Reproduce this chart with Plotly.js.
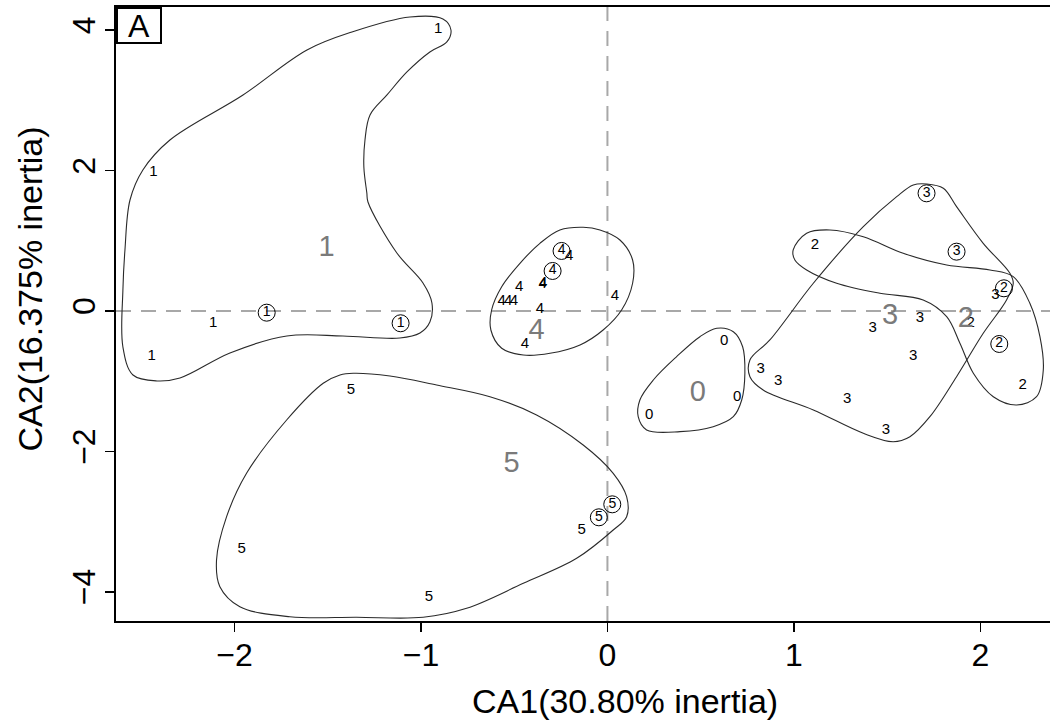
<!DOCTYPE html>
<html>
<head>
<meta charset="utf-8">
<script src="https://cdn.plot.ly/plotly-3.0.1.min.js"></script>
<style>html,body{margin:0;padding:0;background:#fff;}#chart{width:1050px;height:725px;}</style>
</head>
<body>
<div id="chart"></div>
<script>
// ---------- data ----------
const groups = ["0", "1", "2", "3", "4", "5"];

// plain labelled rows
const g0_x = [0.626, 0.696, 0.224];
const g0_y = [-0.427, -1.229, -1.491];
const g1_x = [-0.907, -2.435, -2.114, -2.444];
const g1_y = [4.013, 1.976, -0.175, -0.651];
const g2_x = [1.113, 1.947, 2.226];
const g2_y = [0.940, -0.175, -1.054];
const g3_x = [2.081, 1.422, 1.676, 1.640, 0.821, 0.916, 1.286, 1.493];
const g3_y = [0.228, -0.247, -0.104, -0.641, -0.831, -1.007, -1.258, -1.695];
const g4_x = [-0.205, -0.347, -0.345, -0.473, -0.567, -0.532, -0.501, -0.362, 0.040, -0.442];
const g4_y = [0.783, 0.385, 0.392, 0.332, 0.142, 0.142, 0.142, 0.024, 0.214, -0.470];
const g5_x = [-1.375, -1.961, -0.957, -0.138];
const g5_y = [-1.125, -3.390, -4.084, -3.129];

// circled (highlighted) rows
const c1_x = [-1.827, -1.109];
const c1_y = [-0.024, -0.175];
const c2_x = [2.126, 2.101];
const c2_y = [0.323, -0.470];
const c3_x = [1.711, 1.872];
const c3_y = [1.676, 0.845];
const c4_x = [-0.246, -0.294];
const c4_y = [0.855, 0.570];
const c5_x = [-0.046, 0.026];
const c5_y = [-2.939, -2.754];

// group centroids
const cent_x = [0.484, -1.506, 1.922, 1.515, -0.380, -0.514];
const cent_y = [-1.182, 0.893, -0.119, -0.081, -0.295, -2.194];

// group outlines
const h0_x = [0.586, 0.675, 0.725, 0.737, 0.720, 0.675, 0.567, 0.389, 0.210, 0.165, 0.174, 0.246, 0.371, 0.496];
const h0_y = [-0.246, -0.295, -0.509, -0.887, -1.268, -1.506, -1.648, -1.719, -1.695, -1.506, -1.268, -0.983, -0.651, -0.366];
const h1_x = [-0.882, -0.839, -0.861, -0.952, -1.075, -1.182, -1.273, -1.300, -1.306, -1.290, -1.284, -1.129, -0.989, -0.941, -0.952, -1.005, -1.113, -1.418, -1.719, -2.024, -2.292, -2.416, -2.544, -2.598, -2.598, -2.587, -2.560, -2.491, -2.346, -1.954, -1.611, -1.370, -1.059];
const h1_y = [4.160, 4.003, 3.832, 3.690, 3.405, 3.077, 2.792, 2.436, 2.051, 1.681, 1.553, 0.826, 0.399, 0.114, -0.157, -0.313, -0.385, -0.356, -0.356, -0.598, -0.954, -0.997, -0.912, -0.513, 0.299, 0.869, 1.581, 2.009, 2.436, 3.077, 3.718, 3.974, 4.188];
const h2_x = [0.996, 1.068, 1.193, 1.372, 1.586, 1.819, 2.051, 2.176, 2.265, 2.319, 2.337, 2.301, 2.194, 2.069, 1.962, 1.890, 1.819, 1.693, 1.461, 1.229, 1.068, 1.005];
const h2_y = [0.869, 1.107, 1.154, 1.058, 0.822, 0.655, 0.584, 0.489, 0.110, -0.366, -0.840, -1.221, -1.339, -1.221, -0.887, -0.460, -0.081, 0.157, 0.252, 0.395, 0.584, 0.726];
const h3_x = [1.712, 1.801, 1.872, 2.015, 2.158, 2.176, 2.140, 2.015, 1.872, 1.729, 1.622, 1.532, 1.372, 1.104, 0.835, 0.764, 0.764, 0.871, 1.104, 1.372, 1.551, 1.640];
const h3_y = [1.809, 1.748, 1.486, 0.964, 0.537, 0.395, 0.157, -0.318, -0.936, -1.506, -1.791, -1.862, -1.742, -1.410, -1.125, -0.936, -0.698, -0.413, 0.395, 1.201, 1.628, 1.795];
const h4_x = [-0.130, -0.040, 0.067, 0.135, 0.135, 0.076, -0.023, -0.147, -0.308, -0.451, -0.567, -0.625, -0.621, -0.567, -0.469, -0.362, -0.255];
const h4_y = [1.192, 1.154, 1.011, 0.726, 0.395, 0.014, -0.271, -0.484, -0.603, -0.627, -0.531, -0.271, 0.014, 0.346, 0.679, 0.964, 1.154];
const h5_x = [-1.363, -1.166, -0.916, -0.630, -0.380, -0.130, 0.031, 0.103, 0.103, 0.031, -0.165, -0.451, -0.755, -0.988, -1.345, -1.703, -1.971, -2.078, -2.096, -2.042, -1.935, -1.720, -1.524, -1.434];
const h5_y = [-0.887, -0.926, -1.054, -1.221, -1.481, -1.909, -2.312, -2.645, -2.930, -3.120, -3.523, -3.879, -4.235, -4.363, -4.363, -4.355, -4.212, -3.927, -3.547, -2.930, -2.312, -1.553, -1.030, -0.912];

const xTicks = [-2, -1, 0, 1, 2];
const yTicks = [-4, -2, 0, 2, 4];
const xTitle = "CA1(30.80% inertia)";
const yTitle = "CA2(16.375% inertia)";
const panelLabel = "A";

// ---------- build traces ----------
const FONT = "Liberation Sans, Arial, Helvetica, sans-serif";
const traces = [];

function closed(a) { return a.concat([a[0]]); }
const hulls = [[h0_x, h0_y], [h1_x, h1_y], [h2_x, h2_y], [h3_x, h3_y], [h4_x, h4_y], [h5_x, h5_y]];
hulls.forEach(h => {
  traces.push({
    type: "scatter", mode: "lines", x: closed(h[0]), y: closed(h[1]),
    line: {color: "#2a2a2a", width: 1.1, shape: "spline", smoothing: 1},
    hoverinfo: "skip", showlegend: false
  });
});

const plain = [[g0_x, g0_y], [g1_x, g1_y], [g2_x, g2_y], [g3_x, g3_y], [g4_x, g4_y], [g5_x, g5_y]];
plain.forEach((p, i) => {
  traces.push({
    type: "scatter", mode: "text", x: p[0], y: p[1],
    text: p[0].map(() => groups[i]), textposition: "middle center",
    textfont: {family: FONT, size: 15, color: "#000"},
    hoverinfo: "skip", showlegend: false
  });
});

const circ = [[c1_x, c1_y, "1"], [c2_x, c2_y, "2"], [c3_x, c3_y, "3"], [c4_x, c4_y, "4"], [c5_x, c5_y, "5"]];
circ.forEach(c => {
  traces.push({
    type: "scatter", mode: "markers+text", x: c[0], y: c[1],
    text: c[0].map(() => c[2]), textposition: "middle center",
    textfont: {family: FONT, size: 14, color: "#000"},
    marker: {symbol: "circle-open", size: 17, color: "#000", line: {width: 1, color: "#000"}},
    hoverinfo: "skip", showlegend: false
  });
});

traces.push({
  type: "scatter", mode: "text", x: cent_x, y: cent_y, text: groups,
  textposition: "middle center",
  textfont: {family: FONT, size: 29, color: "#7a7a7a"},
  hoverinfo: "skip", showlegend: false
});

const layout = {
  width: 1050, height: 725,
  margin: {l: 116, r: 0, t: 7, b: 104, pad: 0},
  paper_bgcolor: "#fff", plot_bgcolor: "#fff",
  font: {family: FONT, color: "#000"},
  showlegend: false,
  xaxis: {
    range: [-2.635, 2.373], tickvals: xTicks, ticks: "outside", ticklen: 9, tickwidth: 1.5,
    tickcolor: "#000", showline: true, linecolor: "#000", linewidth: 2, mirror: true,
    showgrid: false, zeroline: false, ticklabelstandoff: -4,
    tickfont: {family: FONT, size: 32, color: "#000"}
  },
  yaxis: {
    range: [-4.416, 4.33], tickvals: yTicks, ticks: "outside", ticklen: 9, tickwidth: 1.5,
    tickcolor: "#000", showline: true, linecolor: "#000", linewidth: 2,
    showgrid: false, zeroline: false, tickangle: -90, ticklabelstandoff: -3,
    tickfont: {family: FONT, size: 32, color: "#000"}
  },
  shapes: [
    {type: "line", xref: "x", yref: "paper", x0: 0, x1: 0, y0: 0, y1: 1, layer: "below",
     line: {color: "#a8a8a8", width: 2, dash: "15px,10px"}},
    {type: "line", xref: "paper", yref: "y", x0: 0, x1: 1, y0: 0, y1: 0, layer: "below",
     line: {color: "#a8a8a8", width: 2, dash: "15px,10px"}}
  ],
  annotations: [
    {text: panelLabel, xref: "paper", yref: "paper", x: 0, y: 1, xanchor: "left", yanchor: "top",
     showarrow: false, font: {family: FONT, size: 32, color: "#000"},
     bgcolor: "#fff", bordercolor: "#000", borderwidth: 2, borderpad: 1, width: 40, height: 31},
    {text: xTitle, xref: "x", yref: "paper", x: 0.094, y: -0.13, xanchor: "center", yanchor: "middle",
     showarrow: false, font: {family: FONT, size: 34, color: "#000"}},
    {text: yTitle, xref: "paper", yref: "paper", x: -0.092, y: 0.54, xanchor: "center", yanchor: "middle",
     textangle: -90, showarrow: false, font: {family: FONT, size: 34, color: "#000"}}
  ]
};

Plotly.newPlot("chart", traces, layout, {displayModeBar: false, staticPlot: true});
</script>
</body>
</html>
